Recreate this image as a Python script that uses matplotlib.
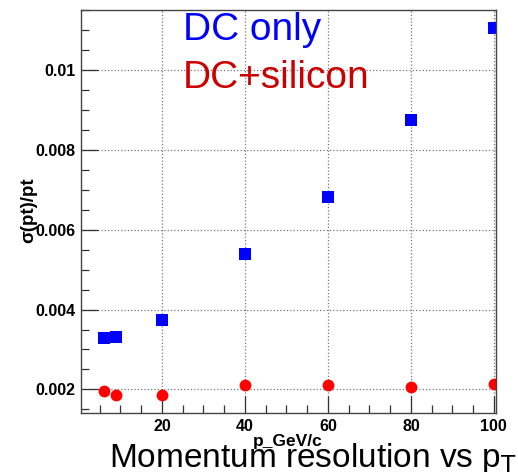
import matplotlib.pyplot as plt
from matplotlib.ticker import MultipleLocator

plt.rcParams['font.family'] = ['Liberation Sans', 'DejaVu Sans']

# transverse momentum points (GeV/c)
pt = [6, 9, 20, 40, 60, 80, 100]
# relative resolution, drift chamber alone
res_dc = [0.00328, 0.00331, 0.00373, 0.00539, 0.00683, 0.00875, 0.01105]
# relative resolution, drift chamber + silicon
res_si = [0.001965, 0.00187, 0.00187, 0.0021, 0.0021, 0.00205, 0.00213]

fig = plt.figure(figsize=(5.18, 4.72), dpi=100)
ax = fig.add_axes([0.1564, 0.125, 0.801, 0.8538])

ax.plot(pt, res_dc, 's', color='#0000ff', markersize=9, markeredgewidth=0)
ax.plot(pt, res_si, 'o', color='#ff0000', markersize=8.5, markeredgewidth=0)

ax.set_xlim(0.5, 100.5)
ax.set_ylim(0.00141, 0.0115)

ax.xaxis.set_major_locator(MultipleLocator(20))
ax.xaxis.set_minor_locator(MultipleLocator(5))
ax.yaxis.set_minor_locator(MultipleLocator(0.0005))
ax.set_yticks([0.002, 0.004, 0.006, 0.008, 0.01])
ax.set_yticklabels(['0.002', '0.004', '0.006', '0.008', '0.01'])

ax.tick_params(which='both', direction='in', top=False, right=False,
               labelsize=11.5, color='#333333', pad=4)
ax.tick_params(which='major', length=12, width=0.9)
ax.tick_params(which='minor', length=6, width=0.9)
for lab in ax.get_xticklabels() + ax.get_yticklabels():
    lab.set_fontweight('bold')

ax.grid(True, which='major', linestyle=':', color='#777777', linewidth=0.9)
ax.set_axisbelow(True)
for s in ax.spines.values():
    s.set_color('#444444')
    s.set_linewidth(1.0)

fig.text(0.056, 0.555, '\u03c3(pt)/pt', rotation=90,
         ha='center', va='center', fontsize=13.5, fontweight='bold')
fig.text(0.556, 0.055, 'p_GeV/c', ha='center', va='baseline',
         fontsize=12.5, fontweight='bold')

fig.text(0.353, 0.915, 'DC only', color='#0000ff', fontsize=28, va='baseline')
fig.text(0.353, 0.8136, 'DC+silicon', color='#cc0000', fontsize=28, va='baseline')

fig.text(0.21, 0.0106, r'Momentum resolution vs p$_{\mathrm{T}}$',
         fontsize=24, va='baseline')

fig.savefig('out.png', dpi=100)
